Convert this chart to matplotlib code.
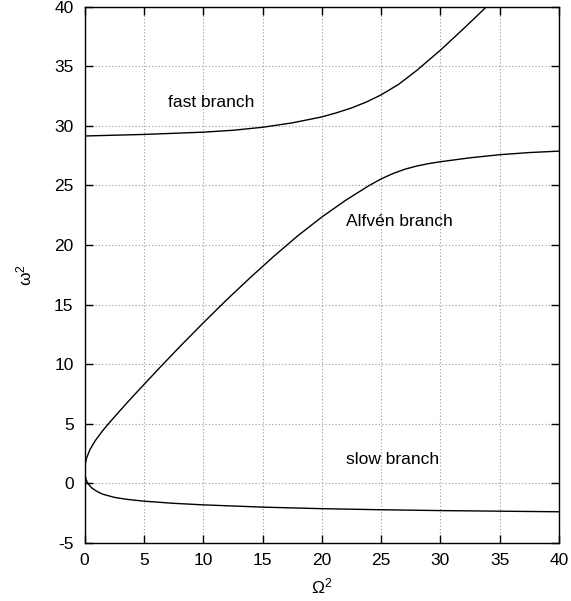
import matplotlib
matplotlib.use("Agg")
import matplotlib.pyplot as plt

plt.rcParams["font.family"] = ["Liberation Sans", "DejaVu Sans"]
plt.rcParams["font.size"] = 12.5
plt.rcParams["axes.unicode_minus"] = False

# fast magnetosonic branch
fast_x = [0.0, 5.0, 10.0, 12.5, 15.0, 17.5, 20.0, 21.25, 22.5, 23.75, 25.0, 26.5, 28.0,
          30.0, 32.0, 34.0]
fast_y = [29.15, 29.28, 29.47, 29.63, 29.88, 30.25, 30.75, 31.1, 31.5, 32.0, 32.6, 33.5, 34.65,
          36.35, 38.2, 40.1]

# Alfven branch running into the slow branch through the turning point near the origin
alf_slow_x = [40.0, 37.5, 35.0, 32.5, 30.0, 29.0, 28.0, 27.0, 26.0, 25.0, 24.0, 22.0, 20.0,
              18.0, 16.0, 14.0, 12.0, 10.0, 8.0, 6.5, 5.0, 4.0, 3.0, 2.0, 1.5, 0.9, 0.45,
              0.15, 0.03, 0.0,
              0.03, 0.12, 0.3, 0.6, 1.0, 1.5, 2.5, 3.5, 5.0, 7.5, 10.0, 15.0, 20.0,
              25.0, 30.0, 35.0, 40.0]
alf_slow_y = [27.88, 27.76, 27.58, 27.32, 26.99, 26.83, 26.63, 26.36, 26.0, 25.55, 25.0, 23.75,
              22.35, 20.8, 19.1, 17.3, 15.43, 13.47, 11.45, 9.89, 8.3, 7.23, 6.13, 5.0, 4.4,
              3.6, 2.85, 2.1, 1.55, 1.15,
              0.75, 0.3, -0.05, -0.38, -0.65, -0.9, -1.17, -1.33, -1.49, -1.67, -1.8, -1.99,
              -2.12, -2.21, -2.28, -2.33, -2.38]

labels = ["fast branch", "Alfvén branch", "slow branch"]
label_x = [7.0, 22.0, 22.0]
label_y = [32.0, 22.0, 2.0]

fig = plt.figure(figsize=(5.71, 6.01), dpi=100)
ax = fig.add_axes([0.1483, 0.0965, 0.8307, 0.8924])

ax.plot(fast_x, fast_y, color="black", lw=1.0)
ax.plot(alf_slow_x, alf_slow_y, color="black", lw=1.0)

for txt, tx, ty in zip(labels, label_x, label_y):
    ax.text(tx, ty, txt, ha="left", va="center")

ax.set_xlim(0, 40)
ax.set_ylim(-5, 40)
ax.set_xticks(range(0, 41, 5))
ax.set_yticks(range(-5, 41, 5))
ax.grid(True, color="#999999", linestyle=(0, (1, 2)), lw=0.8)
ax.tick_params(direction="in", length=6, width=1, top=True, right=True)
ax.tick_params(axis="x", pad=7)
ax.tick_params(axis="y", pad=8)
for sp in ax.spines.values():
    sp.set_linewidth(1.0)

ax.set_xlabel(r"$\mathregular{\Omega^2}$", labelpad=6)
ax.set_ylabel(r"$\mathregular{\omega^2}$", labelpad=14)

fig.savefig("out.png", dpi=100)
